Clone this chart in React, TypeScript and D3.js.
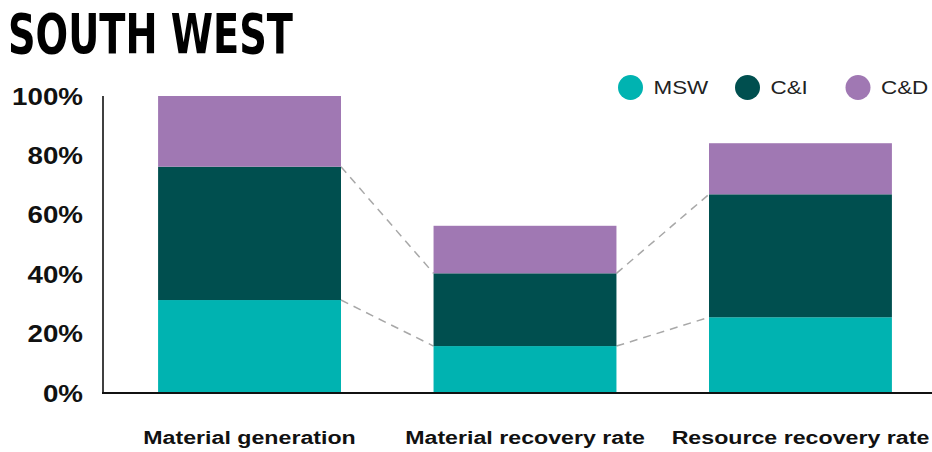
import React from "react";
import * as d3 from "d3";

const categories = ["Material generation", "Material recovery rate", "Resource recovery rate"];
const seriesKeys = ["MSW", "C&I", "C&D"];
const mswValues = [31.3, 15.8, 25.5];
const ciValues = [44.9, 24.5, 41.4];
const cdValues = [23.8, 16.0, 17.2];
const yTicks = [0, 20, 40, 60, 80, 100];
const colors = ["#00B3B1", "#004F4F", "#A078B3"];
const title = "SOUTH WEST";

const W = 932;
const H = 452;
const SX = 1.18; // horizontal text stretch seen in reference

export default function App() {
  const rows = categories.map((c, i) => ({
    cat: c,
    MSW: mswValues[i],
    "C&I": ciValues[i],
    "C&D": cdValues[i],
  }));
  const stacked = d3.stack<any>().keys(seriesKeys)(rows);

  const x = d3.scaleBand<string>().domain(categories).range([103, 947]).paddingInner(0.336).paddingOuter(0.2);
  const y = d3.scaleLinear().domain([0, 100]).range([393, 96]);
  const color = d3.scaleOrdinal<string, string>().domain(seriesKeys).range(colors);
  const bw = x.bandwidth();

  const connectors: { x1: number; y1: number; x2: number; y2: number }[] = [];
  for (let s = 0; s < 2; s++) {
    for (let i = 0; i < categories.length - 1; i++) {
      const a = stacked[s][i][1];
      const b = stacked[s][i + 1][1];
      connectors.push({
        x1: (x(categories[i]) as number) + bw,
        y1: y(a),
        x2: x(categories[i + 1]) as number,
        y2: y(b),
      });
    }
  }

  const legendX = [630.5, 747.5, 858];

  return (
    <svg
      width={W}
      height={H}
      style={{ position: "absolute", left: 0, top: 0, background: "#fff" }}
      fontFamily="'Liberation Sans', Arial, sans-serif"
    >
      <text
        x={8}
        y={53}
        fontFamily="'DejaVu Sans Condensed', 'DejaVu Sans', sans-serif"
        fontWeight="bold"
        fontSize={56}
        textLength={285}
        lengthAdjust="spacingAndGlyphs"
        fill="#000"
      >
        {title}
      </text>

      {connectors.map((c, i) => (
        <line
          key={"c" + i}
          x1={c.x1}
          y1={c.y1}
          x2={c.x2}
          y2={c.y2}
          stroke="#A8A8A8"
          strokeWidth={1.5}
          strokeDasharray="8 6"
        />
      ))}

      {stacked.map((layer) => (
        <g key={layer.key} fill={color(layer.key)}>
          {layer.map((d, i) => (
            <rect
              key={i}
              x={x(categories[i]) as number}
              y={y(d[1])}
              width={bw}
              height={y(d[0]) - y(d[1])}
            />
          ))}
        </g>
      ))}

      <line x1={103} y1={96} x2={103} y2={393} stroke="#000" strokeWidth={1.5} />
      <line x1={102} y1={393} x2={932} y2={393} stroke="#111" strokeWidth={2} />

      {yTicks.map((t) => (
        <text
          key={t}
          transform={`translate(83,${y(t) + 8.5}) scale(${SX},1)`}
          textAnchor="end"
          fontSize={23.5}
          fontWeight="bold"
          fill="#111"
        >
          {t + "%"}
        </text>
      ))}

      {categories.map((c) => (
        <text
          key={c}
          transform={`translate(${(x(c) as number) + bw / 2},444) scale(1.22,1)`}
          textAnchor="middle"
          fontSize={19}
          fontWeight="bold"
          fill="#111"
        >
          {c}
        </text>
      ))}

      {seriesKeys.map((k, i) => (
        <g key={k}>
          <circle cx={legendX[i]} cy={87.5} r={12.5} fill={color(k)} />
          <text
            transform={`translate(${legendX[i] + 23},94) scale(${SX},1)`}
            fontSize={19}
            fill="#222"
          >
            {k}
          </text>
        </g>
      ))}
    </svg>
  );
}
